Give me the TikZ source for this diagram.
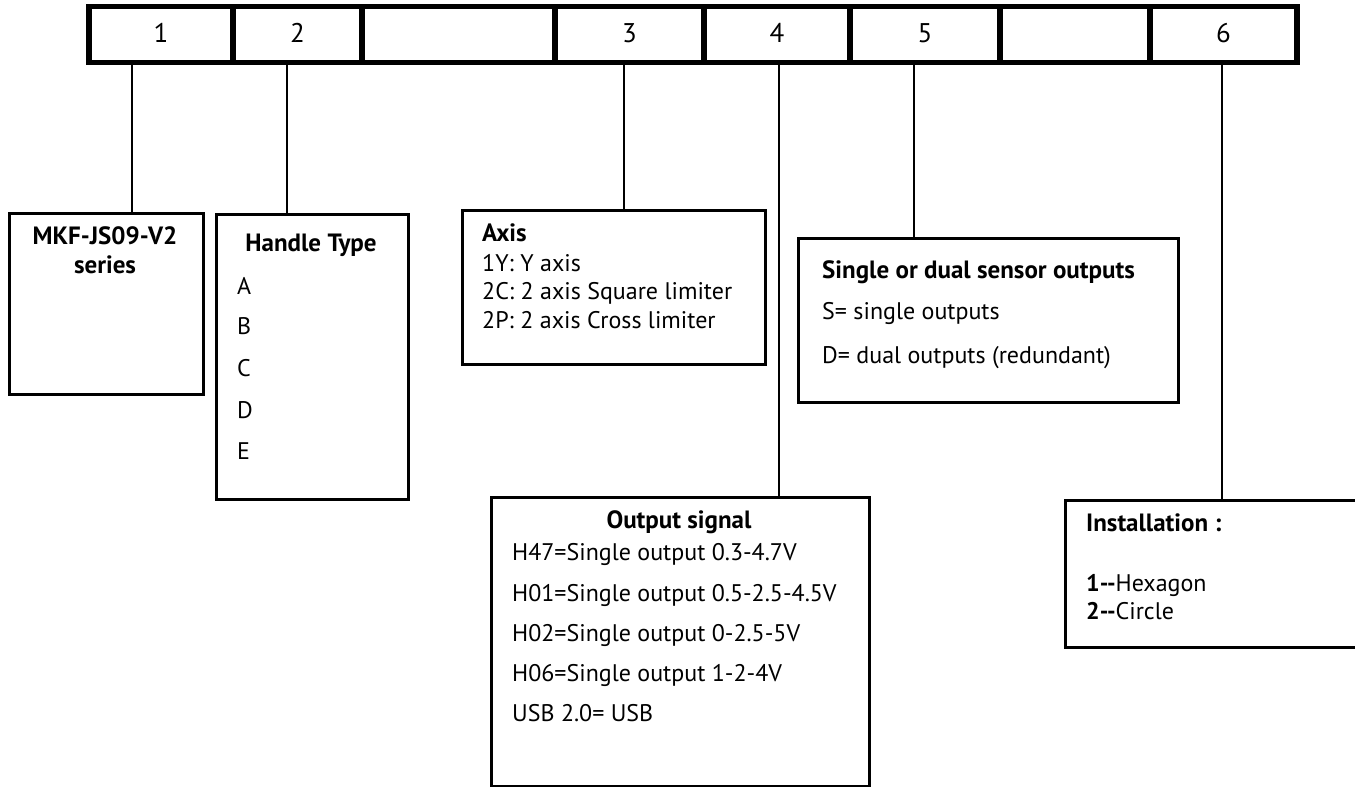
\documentclass[tikz,border=0pt]{standalone}
\usepackage{fontspec}
\setmainfont{PT Sans}
\begin{document}
\begin{tikzpicture}[x=1pt,y=-1pt,
	bar/.style={line width=5.5pt},
	box/.style={draw, line width=2.6pt, anchor=north west, inner sep=0pt},
	stem/.style={line width=2.5pt},
	digit/.style={font=\fontsize{27}{31}\selectfont},
	head/.style={font=\fontsize{25}{29}\selectfont\bfseries, inner sep=0pt, text height=18pt, text depth=5pt},
	item/.style={font=\fontsize{24}{28}\selectfont, anchor=west, inner sep=0pt, text height=17pt, text depth=5pt}]
	\useasboundingbox (0,0) rectangle (1355,787);

	% code bar
	\foreach \l/\r/\t/\n in {89/233/1/c1, 233/362/2/c2, 362/555//cx, 555/704/3/c3, 704/850/4/c4, 850/1000/5/c5, 1000/1150//cy, 1150/1297/6/c6}{
		\draw[bar] (\l,6.5) rectangle (\r,62.5);
		\node[digit] (\n) at ({(\l+\r)/2},33) {\t};
	}

	% boxes
	\node[box, minimum width=194, minimum height=181] (mkf) at (8,212) {};
	\node[box, minimum width=192, minimum height=285] (handle) at (215,213) {};
	\node[box, minimum width=303, minimum height=154] (axis) at (461,209) {};
	\node[box, minimum width=380, minimum height=164] (dual) at (797,237) {};
	\node[box, minimum width=378, minimum height=289] (output) at (490,496) {};
	\node[box, minimum width=320, minimum height=147] (install) at (1064,499) {};

	% stems
	\coordinate (s1) at (132,62.5);
	\coordinate (s2) at (287,62.5);
	\coordinate (s3) at (624,62.5);
	\coordinate (s4) at (779,62.5);
	\coordinate (s5) at (914,62.5);
	\coordinate (s6) at (1222,62.5);
	\draw[stem] (s1) -- (s1 |- mkf.north);
	\draw[stem] (s2) -- (s2 |- handle.north);
	\draw[stem] (s3) -- (s3 |- axis.north);
	\draw[stem] (s4) -- (s4 |- output.north);
	\draw[stem] (s5) -- (s5 |- dual.north);
	\draw[stem] (s6) -- (s6 |- install.north);

	% texts
	\node[head] (mkfT) at (105,238) {MKF-JS09-V2};
	\node[head] (mkfS) at (105,267) {series};

	\node[head] (handleT) at (311,245) {Handle Type};
	\node[item] (hA) at (237,288) {A};
	\node[item] (hB) at (237,328) {B};
	\node[item] (hC) at (237,370) {C};
	\node[item] (hD) at (237,412) {D};
	\node[item] (hE) at (237,453) {E};

	\node[head, anchor=west] (axisT) at (482,235) {Axis};
	\node[item] (a1) at (482,265) {1Y: Y axis};
	\node[item] (a2) at (482,293) {2C: 2 axis Square limiter};
	\node[item] (a3) at (482,322) {2P: 2 axis Cross limiter};

	\node[head, anchor=west] (dualT) at (822,272) {Single or dual sensor outputs};
	\node[item] (d1) at (822,313) {S= single outputs};
	\node[item] (d2) at (822,357) {D= dual outputs (redundant)};

	\node[head] (outT) at (679,522) {Output signal};
	\node[item] (o1) at (512,554) {H47=Single output 0.3-4.7V};
	\node[item] (o2) at (512,595) {H01=Single output 0.5-2.5-4.5V};
	\node[item] (o3) at (512,635) {H02=Single output 0-2.5-5V};
	\node[item] (o4) at (512,675) {H06=Single output 1-2-4V};
	\node[item] (o5) at (512,715) {USB 2.0= USB};

	\node[head, anchor=west] (instT) at (1086,525) {Installation :};
	\node[item] (i1) at (1086,585) {\textbf{1{-}{-}}Hexagon};
	\node[item] (i2) at (1086,613) {\textbf{2{-}{-}}Circle};
\end{tikzpicture}
\end{document}
